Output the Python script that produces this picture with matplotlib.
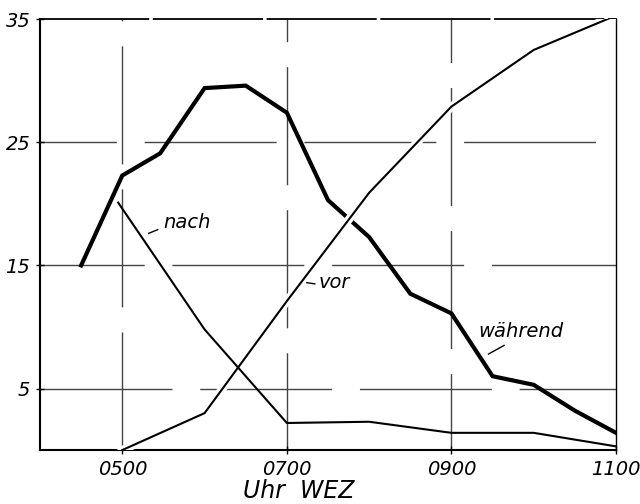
import matplotlib
matplotlib.use("Agg")
import matplotlib.pyplot as plt
import matplotlib.patheffects as pe

# Data (time in hours WEZ)
waehrend_x = [4.5, 5.0, 5.46, 6.0, 6.5, 7.0, 7.5, 8.0, 8.5, 9.0, 9.5, 10.0, 10.5, 11.0]
waehrend_y = [15.0, 22.3, 24.1, 29.4, 29.6, 27.4, 20.3, 17.3, 12.7, 11.1, 6.0, 5.3, 3.2, 1.4]

vor_x = [5.0, 6.0, 7.0, 8.0, 9.0, 10.0, 11.0]
vor_y = [0.0, 3.0, 12.1, 20.9, 27.9, 32.5, 35.3]

nach_x = [4.95, 6.0, 7.0, 8.0, 9.0, 10.0, 11.0]
nach_y = [20.1, 9.8, 2.2, 2.3, 1.4, 1.4, 0.3]

xticks = [5, 7, 9, 11]
xticklabels = ["0500", "0700", "0900", "1100"]
yticks = [5, 15, 25, 35]
yticklabels = ["5", "15", "25", "35"]

fig = plt.figure(figsize=(6.4, 5.04), dpi=100)
ax = fig.add_axes([0.0625, 0.107, 0.9, 0.855])

ax.set_xlim(4, 11)
ax.set_ylim(0, 35)

font = dict(family="DejaVu Sans", style="oblique")

# grid
for i, xv in enumerate([5, 7, 9]):
    ax.plot([xv, xv], [0, 35], color="#444444", lw=1.0, ls=(15 * i, (85, 18)), zorder=1)
for i, yv in enumerate([5, 15, 25]):
    ax.plot([4, 11], [yv, yv], color="#444444", lw=1.0, ls=(20 * i, (95, 20)), zorder=1)

ax.plot(waehrend_x, waehrend_y, color="black", lw=3.0, solid_joinstyle="miter", zorder=3)
ax.plot(vor_x, vor_y, color="black", lw=1.5, zorder=4,
        path_effects=[pe.Stroke(linewidth=6, foreground="white"), pe.Normal()])
ax.plot(nach_x, nach_y, color="black", lw=1.5, zorder=5)

# labels
ax.text(5.5, 18.5, "nach", fontsize=14, va="center", ha="left", **font)
ax.plot([5.32, 5.43], [17.6, 17.9], color="black", lw=1.0)
ax.text(7.38, 13.6, "vor", fontsize=14, va="center", ha="left", **font)
ax.plot([7.24, 7.34], [13.6, 13.5], color="black", lw=1.0)
ax.text(9.33, 9.6, "während", fontsize=14, va="center", ha="left", **font)
ax.plot([9.45, 9.64], [7.8, 8.5], color="black", lw=1.0)

ax.set_xticks(xticks)
ax.set_xticklabels(xticklabels, fontsize=14, **font)
ax.set_yticks(yticks)
ax.set_yticklabels(yticklabels, fontsize=14, **font)
ax.tick_params(axis="both", direction="inout", length=6, width=1.0, pad=4)

ax.spines["left"].set_linewidth(1.5)
ax.spines["bottom"].set_linewidth(1.5)
ax.spines["top"].set_linewidth(1.3)
ax.spines["right"].set_linewidth(1.0)
ax.spines["right"].set_linestyle((0, (2, 1)))
ax.spines["top"].set_linestyle((0, (60, 3)))

fig.text(299 / 640, 1 - 491 / 504, "Uhr  WEZ", fontsize=17, ha="center", va="center", **font)

fig.savefig("out.png", dpi=100)
